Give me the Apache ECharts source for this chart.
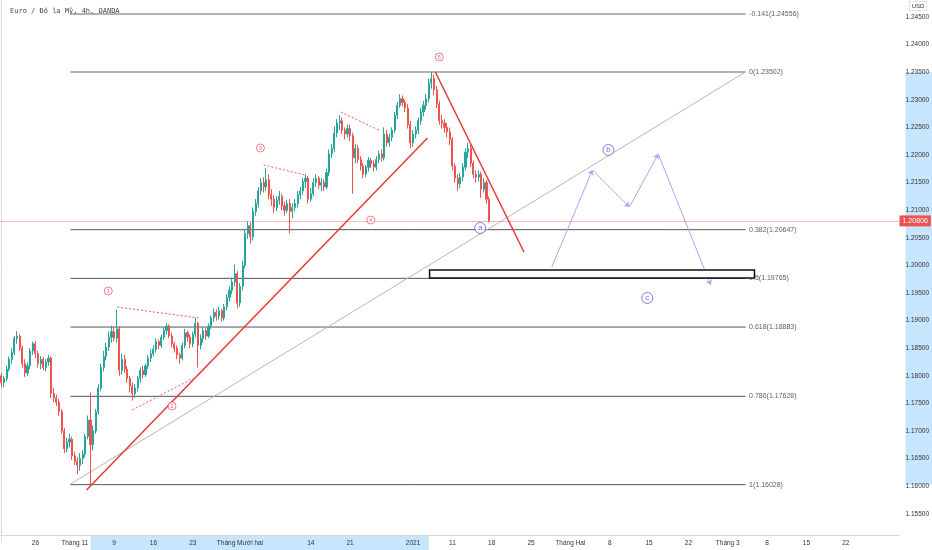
<!DOCTYPE html>
<html><head><meta charset="utf-8">
<script src="https://cdn.jsdelivr.net/npm/echarts@6.0.0/dist/echarts.min.js"></script>
<style>html,body{margin:0;padding:0;background:#fff}#c{width:932px;height:550px}</style>
</head><body><div id="c"></div>
<script>
// ---------- calendar (8h bars, forex week) ----------
const calStart = '2020-10-19', calEnd = '2021-03-30';
const firstBar = '2020-10-19 16';
const closedDays = ['2020-12-25', '2021-01-01'];
const barHours = ['00', '08', '16'];

// ---------- price axis ----------
const priceMin = 1.15, priceMax = 1.24808, priceStep = 0.005;

// ---------- tick labels ----------
const tickDates = ['2020-10-26','2020-11-02','2020-11-09','2020-11-16','2020-11-23','2020-12-01','2020-12-14','2020-12-21','2021-01-04','2021-01-11','2021-01-18','2021-01-25','2021-02-01','2021-02-08','2021-02-15','2021-02-22','2021-03-01','2021-03-08','2021-03-15','2021-03-22'];
const tickLabels = ['26','Tháng 11','9','16','23','Tháng Mười hai','14','21','2021','11','18','25','Tháng Hai','8','15','22','Tháng 3','8','15','22'];

// ---------- candles [open, close, low, high] ----------
const candles = [
[1.1800,1.1788,1.1780,1.1805],[1.1788,1.1795,1.1779,1.1800],[1.1795,1.1812,1.1790,1.1818],[1.1812,1.1830,1.1808,1.1835],
[1.1830,1.1842,1.1822,1.1850],[1.1842,1.1868,1.1838,1.1872],[1.1868,1.1872,1.1858,1.1881],[1.1872,1.1850,1.1845,1.1876],
[1.1850,1.1822,1.1815,1.1855],[1.1822,1.1805,1.1798,1.1830],[1.1805,1.1818,1.1800,1.1824],[1.1818,1.1845,1.1812,1.1850],
[1.1845,1.1858,1.1838,1.1862],[1.1858,1.1840,1.1832,1.1863],[1.1840,1.1822,1.1815,1.1845],[1.1822,1.1830,1.1812,1.1836],
[1.1830,1.1815,1.1810,1.1834],[1.1815,1.1825,1.1808,1.1830],[1.1825,1.1832,1.1818,1.1838],[1.1832,1.1768,1.1760,1.1835],
[1.1768,1.1760,1.1752,1.1778],[1.1760,1.1752,1.1745,1.1766],[1.1752,1.1735,1.1728,1.1758],[1.1735,1.1700,1.1695,1.1740],
[1.1700,1.1668,1.1660,1.1705],[1.1668,1.1680,1.1662,1.1688],[1.1680,1.1685,1.1670,1.1695],[1.1685,1.1655,1.1648,1.1690],
[1.1655,1.1645,1.1638,1.1662],[1.1645,1.1638,1.1622,1.1652],[1.1638,1.1650,1.1628,1.1660],[1.1650,1.1658,1.1640,1.1665],
[1.1658,1.1690,1.1652,1.1695],[1.1690,1.1720,1.1685,1.1728],[1.1720,1.1675,1.1603,1.1770],[1.1675,1.1700,1.1665,1.1710],
[1.1700,1.1735,1.1695,1.1740],[1.1735,1.1778,1.1730,1.1785],[1.1778,1.1815,1.1772,1.1822],[1.1815,1.1835,1.1808,1.1845],
[1.1835,1.1852,1.1828,1.1860],[1.1852,1.1870,1.1845,1.1880],[1.1870,1.1880,1.1860,1.1891],[1.1880,1.1868,1.1862,1.1888],
[1.1868,1.1885,1.1860,1.1920],[1.1885,1.1810,1.1800,1.1890],[1.1810,1.1830,1.1802,1.1840],[1.1830,1.1812,1.1805,1.1838],
[1.1812,1.1795,1.1788,1.1818],[1.1795,1.1782,1.1770,1.1800],[1.1782,1.1768,1.1755,1.1788],[1.1768,1.1778,1.1760,1.1785],
[1.1778,1.1795,1.1772,1.1800],[1.1795,1.1810,1.1788,1.1815],[1.1810,1.1802,1.1795,1.1818],[1.1802,1.1818,1.1798,1.1822],
[1.1818,1.1832,1.1812,1.1838],[1.1832,1.1840,1.1825,1.1848],[1.1840,1.1848,1.1835,1.1855],[1.1848,1.1862,1.1842,1.1868],
[1.1862,1.1855,1.1848,1.1866],[1.1855,1.1870,1.1850,1.1875],[1.1870,1.1882,1.1865,1.1888],[1.1882,1.1890,1.1875,1.1895],
[1.1890,1.1872,1.1868,1.1893],[1.1872,1.1858,1.1852,1.1878],[1.1858,1.1850,1.1842,1.1862],[1.1850,1.1838,1.1830,1.1855],
[1.1838,1.1832,1.1822,1.1842],[1.1832,1.1855,1.1828,1.1860],[1.1855,1.1878,1.1850,1.1885],[1.1878,1.1870,1.1862,1.1882],
[1.1870,1.1858,1.1850,1.1875],[1.1858,1.1875,1.1852,1.1880],[1.1875,1.1895,1.1870,1.1905],[1.1895,1.1855,1.1815,1.1898],
[1.1855,1.1868,1.1848,1.1875],[1.1868,1.1882,1.1860,1.1888],[1.1882,1.1872,1.1865,1.1886],[1.1872,1.1890,1.1868,1.1895],
[1.1890,1.1905,1.1885,1.1910],[1.1905,1.1915,1.1898,1.1922],[1.1915,1.1908,1.1900,1.1920],[1.1908,1.1918,1.1902,1.1925],
[1.1918,1.1905,1.1898,1.1922],[1.1905,1.1925,1.1900,1.1930],[1.1925,1.1942,1.1918,1.1948],[1.1942,1.1955,1.1935,1.1962],
[1.1955,1.1970,1.1948,1.1978],[1.1970,1.1985,1.1962,1.2002],[1.1985,1.1932,1.1922,1.1990],[1.1932,1.1962,1.1925,1.1968],
[1.1962,1.2000,1.1955,1.2008],[1.2000,1.2058,1.1995,1.2065],[1.2058,1.2072,1.2048,1.2080],[1.2072,1.2052,1.2040,1.2078],
[1.2052,1.2098,1.2045,1.2105],[1.2098,1.2112,1.2090,1.2120],[1.2112,1.2135,1.2105,1.2142],[1.2135,1.2150,1.2128,1.2158],
[1.2150,1.2142,1.2132,1.2160],[1.2142,1.2155,1.2135,1.2177],[1.2155,1.2128,1.2120,1.2165],[1.2128,1.2120,1.2108,1.2138],
[1.2120,1.2105,1.2095,1.2128],[1.2105,1.2118,1.2098,1.2125],[1.2118,1.2125,1.2110,1.2135],[1.2125,1.2108,1.2100,1.2130],
[1.2108,1.2100,1.2090,1.2115],[1.2100,1.2112,1.2095,1.2118],[1.2112,1.2098,1.2058,1.2120],[1.2098,1.2105,1.2085,1.2112],
[1.2105,1.2112,1.2098,1.2120],[1.2112,1.2128,1.2105,1.2135],[1.2128,1.2135,1.2120,1.2142],[1.2135,1.2152,1.2128,1.2158],
[1.2152,1.2158,1.2140,1.2165],[1.2158,1.2120,1.2112,1.2162],[1.2120,1.2130,1.2115,1.2140],[1.2130,1.2150,1.2125,1.2158],
[1.2150,1.2158,1.2142,1.2165],[1.2158,1.2145,1.2138,1.2162],[1.2145,1.2150,1.2135,1.2158],[1.2150,1.2142,1.2135,1.2156],
[1.2142,1.2168,1.2138,1.2175],[1.2168,1.2202,1.2162,1.2210],[1.2202,1.2212,1.2195,1.2220],[1.2212,1.2240,1.2205,1.2252],
[1.2240,1.2258,1.2232,1.2265],[1.2258,1.2262,1.2245,1.2272],[1.2262,1.2245,1.2238,1.2268],[1.2245,1.2238,1.2228,1.2250],
[1.2238,1.2248,1.2232,1.2255],[1.2248,1.2235,1.2225,1.2255],[1.2235,1.2195,1.2130,1.2240],[1.2195,1.2212,1.2185,1.2220],
[1.2212,1.2192,1.2185,1.2218],[1.2192,1.2180,1.2172,1.2198],[1.2180,1.2165,1.2158,1.2185],[1.2165,1.2178,1.2160,1.2182],
[1.2178,1.2190,1.2170,1.2196],[1.2190,1.2184,1.2176,1.2195],[1.2184,1.2178,1.2170,1.2190],[1.2178,1.2192,1.2172,1.2198],
[1.2192,1.2202,1.2185,1.2208],[1.2202,1.2195,1.2188,1.2210],[1.2195,1.2238,1.2190,1.2250],[1.2238,1.2222,1.2215,1.2245],
[1.2222,1.2232,1.2215,1.2238],[1.2232,1.2245,1.2225,1.2250],[1.2245,1.2272,1.2240,1.2278],[1.2272,1.2290,1.2265,1.2296],
[1.2290,1.2302,1.2285,1.2310],[1.2302,1.2295,1.2288,1.2308],[1.2295,1.2285,1.2278,1.2300],[1.2285,1.2255,1.2248,1.2292],
[1.2255,1.2222,1.2212,1.2262],[1.2222,1.2238,1.2215,1.2245],[1.2238,1.2245,1.2230,1.2252],[1.2245,1.2262,1.2238,1.2268],
[1.2262,1.2278,1.2255,1.2285],[1.2278,1.2290,1.2270,1.2298],[1.2290,1.2302,1.2282,1.2310],[1.2302,1.2330,1.2295,1.2338],
[1.2330,1.2338,1.2320,1.2350],[1.2338,1.2318,1.2308,1.2345],[1.2318,1.2292,1.2285,1.2325],[1.2292,1.2262,1.2255,1.2298],
[1.2262,1.2258,1.2248,1.2272],[1.2258,1.2250,1.2240,1.2265],[1.2250,1.2242,1.2232,1.2258],[1.2242,1.2228,1.2218,1.2250],
[1.2228,1.2180,1.2172,1.2232],[1.2180,1.2158,1.2150,1.2185],[1.2158,1.2148,1.2135,1.2165],[1.2148,1.2160,1.2140,1.2168],
[1.2160,1.2178,1.2152,1.2185],[1.2178,1.2205,1.2172,1.2212],[1.2205,1.2212,1.2195,1.2222],[1.2212,1.2185,1.2178,1.2218],
[1.2185,1.2165,1.2158,1.2190],[1.2165,1.2160,1.2150,1.2172],[1.2160,1.2165,1.2152,1.2172],[1.2165,1.2138,1.2122,1.2170],
[1.2138,1.2150,1.2132,1.2158],[1.2150,1.2120,1.2112,1.2155],[1.2120,1.20806,1.2078,1.2125]
];

// ---------- drawings (x in bar index, y in price) ----------
const fibLevels = [-0.141, 0, 0.382, 0.5, 0.618, 0.786, 1];
const fibPrices = [1.24556, 1.23502, 1.20647, 1.19765, 1.18883, 1.17628, 1.16028];
const fibSpan = [26.4, 283.8];
const fibAnchorBars = [34, 163];
const grayLine = [[26.4, 1.16040], [283.8, 1.23504]];
const redTrend = [[32.5, 1.15931], [162.5, 1.22308]];
const redDown = [[165.5, 1.23504], [199.3, 1.20243]];
const dotted1 = [[44.2, 1.19246], [75.3, 1.19047]];
const dotted2 = [[49.9, 1.17380], [73.4, 1.17960]];
const dotted3 = [[100.0, 1.21819], [115.9, 1.21638]];
const dotted4 = [[129.5, 1.22779], [144.7, 1.22435]];
const waveNums = [['1', 40.8, 1.19536], ['2', 65.1, 1.17453], ['3', 98.8, 1.22127], ['4', 140.9, 1.20822], ['5', 167.0, 1.23775]];
const waveLetters = [['a', 182.6, 1.20678], ['b', 231.5, 1.22091], ['c', 246.3, 1.19409]];
const projPath = [[209.9, 1.19971], [225.4, 1.21728], [239.5, 1.21058], [250.5, 1.22018], [270.5, 1.19645]];
const zoneBox = [163.3, 1.19917, 287.2, 1.19772];
const titleText = 'Euro / Đô la Mỹ, 4h, OANDA';
const currencyText = 'USD';

// ---------- build ----------
function buildCategories() {
  const out = [];
  const d = new Date(calStart + 'T00:00:00Z'), e = new Date(calEnd + 'T00:00:00Z');
  for (; d <= e; d.setUTCDate(d.getUTCDate() + 1)) {
    const wd = d.getUTCDay();
    if (wd === 0 || wd === 6) continue;
    const ds = d.toISOString().slice(0, 10);
    if (closedDays.includes(ds)) continue;
    for (const h of barHours) { const k = ds + ' ' + h; if (k >= firstBar) out.push(k); }
  }
  return out;
}
const categories = buildCategories();
const N = categories.length;
const tickMap = {};
tickDates.forEach((d, i) => { tickMap[d + ' 00'] = tickLabels[i]; });

const GRID_LEFT = 0, GRID_RIGHT = 27, GRID_BOTTOM = 8.6, XAXIS_SHIFT = -6.4;
const RED = '#e53935', LBL_RED = '#f23645', BLUE = '#4f4fdc', PROJ = '#a6a8f2';
const FONT = 'Liberation Sans, Arial, sans-serif';

function seg(name, pts, color, width, type, z) {
  return { type: 'line', name, xAxisIndex: 1, yAxisIndex: 0, data: pts, symbol: 'none', silent: true,
    lineStyle: { color, width, type: type || 'solid' }, z: z || 2, animation: false };
}

const series = [];
series.push({
  type: 'candlestick', xAxisIndex: 0, yAxisIndex: 0, data: candles, barWidth: 1.6, z: 3,
  itemStyle: { color: '#26a69a', color0: '#ef5350', borderColor: '#26a69a', borderColor0: '#ef5350', borderWidth: 1 },
  markLine: {
    silent: true, symbol: ['none', 'none'], animation: false, precision: 5,
    lineStyle: { color: 'rgba(242,54,69,0.35)', width: 1, type: 'solid' },
    label: { position: 'end', distance: 0, formatter: p => Number(p.value).toFixed(5), color: '#fff', backgroundColor: '#ef5350',
      fontSize: 7, fontFamily: FONT, padding: [2, 3, 2, 3] },
    data: [{ yAxis: candles[candles.length - 1][1] }]
  }
});
fibPrices.forEach((p, i) => {
  series.push(seg('fib' + i, [[fibSpan[0], p], [fibSpan[1], p]], i < 2 ? '#9a9a9a' : '#555', i < 2 ? 1.5 : 1, 'solid', 1));
});
series.push({
  type: 'scatter', xAxisIndex: 1, yAxisIndex: 0, silent: true, z: 4, symbolSize: 1,
  itemStyle: { color: 'rgba(0,0,0,0)' },
  data: fibPrices.map((p, i) => [fibSpan[1], p, fibLevels[i] + '(' + p.toFixed(5) + ')']),
  label: { show: true, position: 'right', distance: 3, formatter: q => q.data[2], color: '#333', fontSize: 7, fontFamily: FONT }
});
series.push(seg('gray', grayLine, '#b8b8b8', 1, 'solid', 2));
series.push(seg('redTrend', redTrend, RED, 1.5, 'solid', 4));
series.push(seg('redDown', redDown, RED, 1.5, 'solid', 4));
[dotted1, dotted2, dotted3, dotted4].forEach((d, i) => series.push(seg('dot' + i, d, '#f05a5a', 1, [2, 2], 4)));
series.push({
  type: 'lines', coordinateSystem: 'cartesian2d', xAxisIndex: 1, yAxisIndex: 0, silent: true, z: 4,
  symbol: ['none', 'arrow'], symbolSize: 5,
  lineStyle: { color: PROJ, width: 1, opacity: 1, curveness: 0 },
  data: projPath.slice(1).map((p, i) => ({ coords: [projPath[i], p] }))
});
series.push({
  type: 'custom', xAxisIndex: 1, yAxisIndex: 0, silent: true, z: 6, data: [zoneBox],
  renderItem: (params, api) => {
    const a = api.coord([api.value(0), api.value(1)]), b = api.coord([api.value(2), api.value(3)]);
    return { type: 'rect', shape: { x: a[0], y: a[1], width: b[0] - a[0], height: b[1] - a[1] },
      style: { fill: '#fff', stroke: '#111', lineWidth: 1.5 } };
  }
});
series.push({
  type: 'scatter', xAxisIndex: 1, yAxisIndex: 0, silent: true, z: 7, symbol: 'circle', symbolSize: 8,
  itemStyle: { color: '#fff', borderColor: LBL_RED, borderWidth: 0.8 },
  data: waveNums.map(w => [w[1], w[2], w[0]]),
  label: { show: true, position: 'inside', formatter: q => q.data[2], color: LBL_RED, fontSize: 5.5, fontFamily: FONT }
});
series.push({
  type: 'scatter', xAxisIndex: 1, yAxisIndex: 0, silent: true, z: 7, symbol: 'circle', symbolSize: 11,
  itemStyle: { color: '#fff', borderColor: BLUE, borderWidth: 0.9 },
  data: waveLetters.map(w => [w[1], w[2], w[0]]),
  label: { show: true, position: 'inside', formatter: q => q.data[2], color: BLUE, fontSize: 8, fontFamily: FONT }
});

const chart = echarts.init(document.getElementById('c'), null, { renderer: 'canvas' });
chart.setOption({
  animation: false,
  backgroundColor: '#fff',
  title: { text: titleText, left: 5, top: 3, textStyle: { fontSize: 7, fontWeight: 'normal', color: '#434651', fontFamily: 'DejaVu Sans Mono, monospace' } },
  grid: { left: GRID_LEFT, right: GRID_RIGHT, top: 0, bottom: GRID_BOTTOM },
  xAxis: [
    { type: 'category', data: categories, boundaryGap: true, offset: XAXIS_SHIFT,
      axisLine: { show: true, lineStyle: { color: '#d6d8de', width: 1 } }, axisTick: { show: false }, splitLine: { show: false },
      axisLabel: { interval: (idx, val) => tickMap[val] !== undefined, formatter: v => tickMap[v] || '',
        margin: 5, fontSize: 6.5, color: '#333', fontFamily: FONT } },
    { type: 'value', min: -0.5, max: N - 0.5, show: false }
  ],
  yAxis: [{ type: 'value', position: 'right', min: priceMin, max: priceMax, interval: priceStep,
    axisLine: { show: true, lineStyle: { color: '#d6d8de' } }, axisTick: { show: false }, splitLine: { show: false },
    axisLabel: { showMinLabel: false, showMaxLabel: false, margin: 6, fontSize: 6.5, color: '#333', fontFamily: FONT,
      formatter: v => v.toFixed(5) } }],
  series
});

// axis highlight bands for the selected drawing
const yTop = chart.convertToPixel({ yAxisIndex: 0 }, fibPrices[1]);
const yBot = chart.convertToPixel({ yAxisIndex: 0 }, fibPrices[6]);
const xL = chart.convertToPixel({ xAxisIndex: 1 }, fibAnchorBars[0]);
const xR = chart.convertToPixel({ xAxisIndex: 1 }, fibAnchorBars[1]);
const W = chart.getWidth(), H = chart.getHeight();
const axisX = W - GRID_RIGHT;
const xAxisY = H - GRID_BOTTOM + XAXIS_SHIFT;
chart.setOption({
  graphic: [
    { type: 'rect', z: -1, silent: true, shape: { x: axisX + 0.5, y: yTop, width: GRID_RIGHT, height: yBot - yTop }, style: { fill: 'rgba(33,150,243,0.25)' } },
    { type: 'rect', z: -1, silent: true, shape: { x: xL, y: xAxisY + 0.5, width: xR - xL, height: H - xAxisY }, style: { fill: 'rgba(33,150,243,0.25)' } },
    { type: 'text', silent: true, x: axisX + 13, y: 6, style: { text: currencyText, fill: '#333', font: '6px ' + FONT, align: 'center', verticalAlign: 'middle',
      borderColor: '#d6d8de', borderWidth: 0.8, padding: [1, 2, 1, 2], backgroundColor: '#fff' } }
  ]
});
</script></body></html>
